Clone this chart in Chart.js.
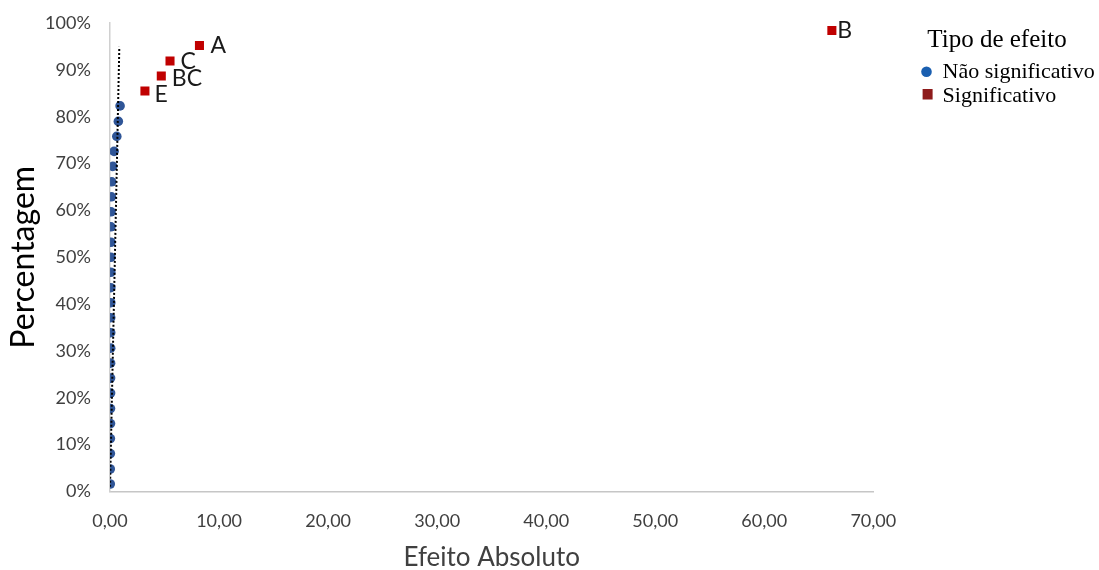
<!DOCTYPE html>
<html>
<head>
<meta charset="utf-8">
<script src="https://cdn.jsdelivr.net/npm/chart.js@4/dist/chart.umd.min.js"></script>
<style>
  html, body { margin: 0; padding: 0; background: #ffffff; }
  #wrap { width: 1099px; height: 570px; }
</style>
</head>
<body>
<div id="wrap"><canvas id="c" width="1099" height="570"></canvas></div>
<script>
// Half-normal plot of absolute effects
const naoSigEfeito = [0.02, 0.02, 0.03, 0.03, 0.04, 0.04, 0.05, 0.05, 0.05, 0.06, 0.06, 0.06, 0.07, 0.07, 0.07, 0.08, 0.08, 0.08, 0.09, 0.12, 0.15, 0.25, 0.37, 0.62, 0.76, 0.92];
const naoSigPct = [1.6, 4.8, 8.1, 11.3, 14.5, 17.7, 21.0, 24.2, 27.4, 30.6, 33.9, 37.1, 40.3, 43.5, 46.8, 50.0, 53.2, 56.5, 59.7, 62.9, 66.1, 69.4, 72.6, 75.8, 79.0, 82.3];
const sigRotulos = ['E', 'BC', 'C', 'A', 'B'];
const sigEfeito = [3.2, 4.7, 5.5, 8.2, 66.2];
const sigPct = [85.5, 88.7, 91.9, 95.2, 98.4];
const retaEfeito = [0.0, 0.85];
const retaPct = [1.0, 94.9];
const xTicks = [0, 10, 20, 30, 40, 50, 60, 70];
const yTicks = [0, 10, 20, 30, 40, 50, 60, 70, 80, 90, 100];
const legendaTitulo = 'Tipo de efeito';
const legendaItens = ['Não significativo', 'Significativo'];

const sansFont = "Lato, 'Open Sans', sans-serif";
const serifFont = "'Liberation Serif', 'DejaVu Serif', serif";

const pts = (xs, ys) => xs.map((x, i) => ({ x: x, y: ys[i] }));

// Text labels beside the significant effects
const effectLabels = {
  id: 'effectLabels',
  afterDatasetsDraw(chart) {
    const meta = chart.getDatasetMeta(1);
    const ctx = chart.ctx;
    ctx.save();
    ctx.font = "23px " + sansFont;
    ctx.fillStyle = '#1a1a1a';
    ctx.textAlign = 'left';
    ctx.textBaseline = 'alphabetic';
    const dx = [9.5, 10.5, 10.5, 11, 5.5];
    const dy = [10.8, 9.6, 7.6, 7.1, 8];
    meta.data.forEach((p, i) => {
      ctx.fillText(sigRotulos[i], p.x + dx[i], p.y + dy[i]);
    });
    ctx.restore();
  }
};

// Legend block on the right, with title and two entries
const legendBlock = {
  id: 'legendBlock',
  afterDraw(chart) {
    const ctx = chart.ctx;
    const x0 = chart.chartArea.right + 54;
    ctx.save();
    ctx.textAlign = 'left';
    ctx.textBaseline = 'alphabetic';
    ctx.fillStyle = '#000000';
    ctx.font = "25px " + serifFont;
    ctx.fillText(legendaTitulo, x0, 46.5);

    ctx.font = "22px " + serifFont;
    // circle entry
    ctx.fillStyle = '#1a5fb0';
    ctx.beginPath();
    ctx.arc(x0 - 0.8, 71.7, 5.3, 0, Math.PI * 2);
    ctx.fill();
    ctx.fillStyle = '#000000';
    ctx.fillText(legendaItens[0], x0 + 15.3, 78.3);
    // square entry
    ctx.fillStyle = '#8e1b1b';
    ctx.fillRect(x0 - 4.7, 89, 10, 10.5);
    ctx.fillStyle = '#000000';
    ctx.fillText(legendaItens[1], x0 + 15.3, 101.7);
    ctx.restore();
  }
};

new Chart(document.getElementById('c'), {
  type: 'scatter',
  data: {
    datasets: [
      {
        label: legendaItens[0],
        data: pts(naoSigEfeito, naoSigPct),
        backgroundColor: '#2f5597',
        borderColor: '#2f5597',
        pointStyle: 'circle',
        pointRadius: 4.8,
        pointBorderWidth: 0,
        order: 2
      },
      {
        label: legendaItens[1],
        data: pts(sigEfeito, sigPct),
        backgroundColor: '#c00000',
        borderColor: '#c00000',
        pointStyle: 'rect',
        pointRadius: 6.4,
        pointBorderWidth: 0,
        order: 1
      },
      {
        label: 'reta',
        data: pts(retaEfeito, retaPct),
        showLine: true,
        borderColor: '#000000',
        borderWidth: 2,
        borderDash: [2, 2],
        pointRadius: 0,
        order: 0
      }
    ]
  },
  options: {
    responsive: false,
    animation: false,
    layout: { padding: { top: 0, right: 225.7, bottom: 0, left: 0 } },
    plugins: {
      tooltip: { enabled: false },
      legend: { display: false }
    },
    scales: {
      x: {
        type: 'linear',
        min: 0,
        max: 70,
        afterBuildTicks(scale) { scale.ticks = xTicks.map(v => ({ value: v })); },
        grid: { display: false, drawTicks: true, tickLength: 8.1 },
        border: { display: true, color: '#c6c6c6', width: 1.5 },
        ticks: {
          color: '#404040',
          font: { family: sansFont, size: 18 },
          padding: 10.6,
          callback: v => v.toFixed(2).replace('.', ',')
        },
        title: {
          display: true,
          text: 'Efeito Absoluto',
          color: '#404040',
          font: { family: sansFont, size: 26 },
          padding: { top: 0, bottom: -3.6 }
        }
      },
      y: {
        type: 'linear',
        min: 0,
        max: 100,
        afterBuildTicks(scale) { scale.ticks = yTicks.map(v => ({ value: v })); },
        grid: { display: false, drawTicks: true, tickLength: 7 },
        border: { display: true, color: '#d0d0d0', width: 1.5 },
        ticks: {
          color: '#404040',
          font: { family: sansFont, size: 18 },
          padding: 12.2,
          callback: v => v + '%'
        },
        title: {
          display: true,
          text: 'Percentagem',
          color: '#000000',
          font: { family: sansFont, size: 32 },
          padding: { top: 4.5, bottom: -10 }
        }
      }
    }
  },
  plugins: [effectLabels, legendBlock]
});
</script>
</body>
</html>
